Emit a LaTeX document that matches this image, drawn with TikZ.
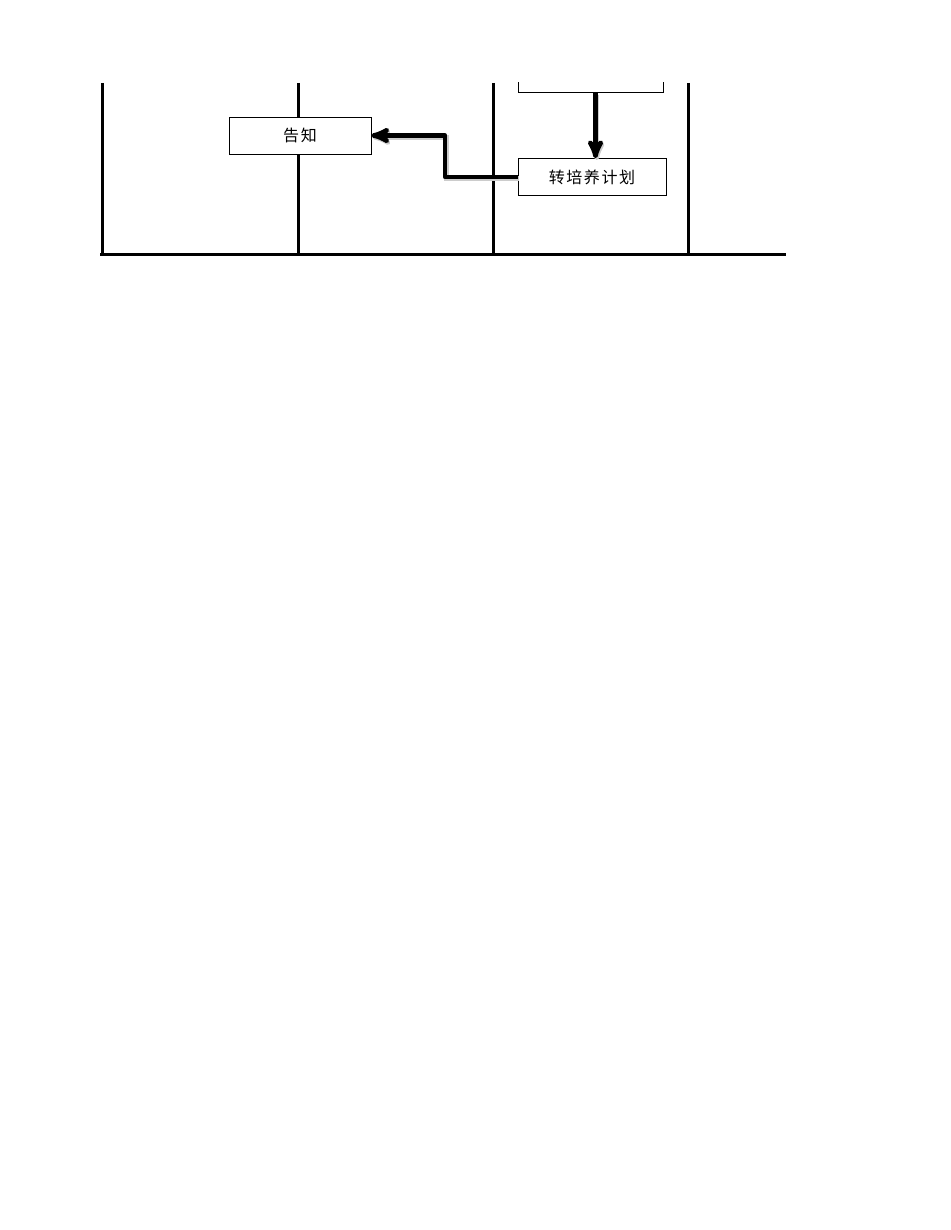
\documentclass[tikz,border=0pt]{standalone}
\usepackage{fontspec}
\newfontfamily\cjk[LetterSpace=10]{Noto Sans CJK SC}
\usetikzlibrary{arrows}

\begin{document}
\begin{tikzpicture}[x=1pt, y=-1pt, >=stealth', semithick,
		task/.style={draw, fill=white, rectangle, inner sep=0pt, minimum height=37,
			font=\cjk\fontsize{16}{18}\selectfont},
		lane/.style={line width=3pt},
		flow/.style={->, line width=4.6pt, line join=round,
			preaction={draw=black!20, line width=4.6pt, transform canvas={shift={(1.2pt,-1.8pt)}}}}]
		\useasboundingbox (0,0) rectangle (950,1230);
		
		\begin{scope}
			\clip (0,83) rectangle (950,1230);
			\foreach \x in {102, 298, 493, 688}
				\draw[lane] (\x,83) -- (\x,255);
			\draw[lane] (100,255) -- (786,255);
			
			\node[task, minimum width=145] (qr) at (590.5,74) {};
		\end{scope}
		
		\node[task, minimum width=142] (gz) at (300,135.5) {告知};
		\node[task, minimum width=148] (zpy) at (592,177) {转培养计划};
		
		\coordinate (bend) at (445,156);
		\draw[flow] ([xshift=5]qr.south) -- ([xshift=5]qr.south |- zpy.north);
		\draw[flow] (zpy.west) -| (bend) |- (gz.east); % back to the first lane
	\end{tikzpicture}
\end{document}
